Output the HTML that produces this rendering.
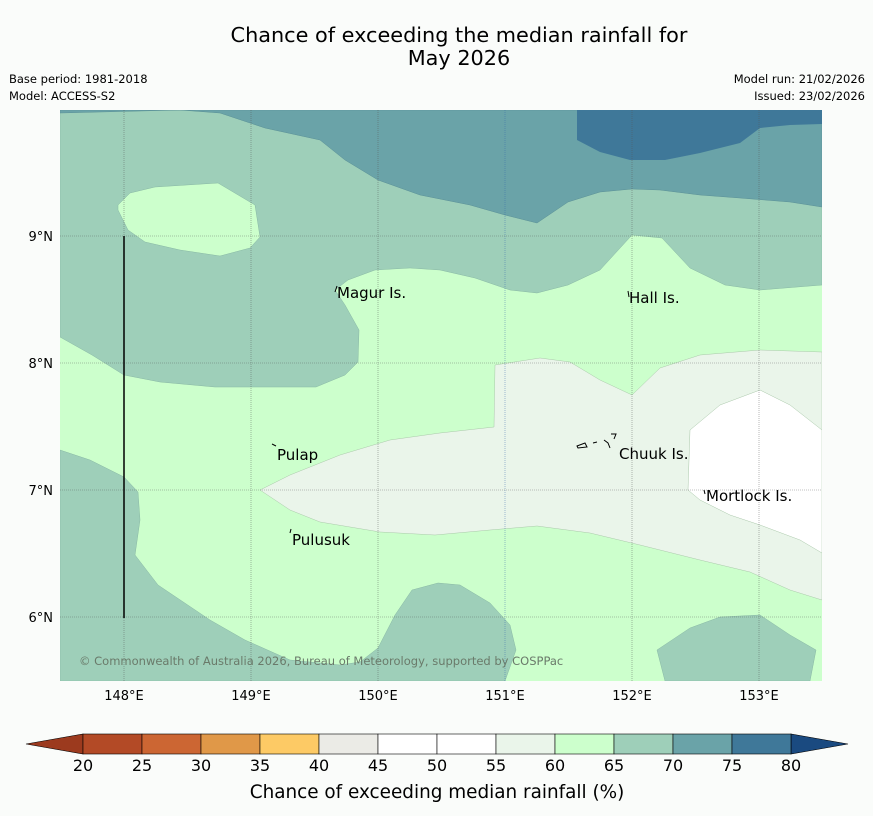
<!DOCTYPE html>
<html><head><meta charset="utf-8"><style>
body{margin:0;background:#fafcfa;font-family:"DejaVu Sans","Liberation Sans",sans-serif;}
svg{display:block}
</style></head><body>
<svg width="873" height="816" viewBox="0 0 873 816">
<rect width="873" height="816" fill="#fafcfa"/>
<text x="459" y="42" font-size="20.8" text-anchor="middle" fill="#000">Chance of exceeding the median rainfall for</text>
<text x="459" y="65" font-size="20.8" text-anchor="middle" fill="#000">May 2026</text>
<text x="9" y="83" font-size="11.5">Base period: 1981-2018</text>
<text x="9" y="100" font-size="11.5">Model: ACCESS-S2</text>
<text x="865" y="83" font-size="11.5" text-anchor="end">Model run: 21/02/2026</text>
<text x="865" y="100" font-size="11.5" text-anchor="end">Issued: 23/02/2026</text>
<defs><clipPath id="mc"><rect x="60" y="110" width="762" height="571"/></clipPath></defs>
<g clip-path="url(#mc)">
<rect x="60" y="110" width="762" height="571" fill="#ccffcc"/>
<polygon fill="#9ecfb9" stroke="#88b8a4" stroke-width="0.5" points="60,337 92,355 124,375 160,382 215,387 316,387 345,375 358,362 359,330 345,305 335,290 348,280 375,270 410,268 440,270 475,278 510,290 537,293 568,285 600,270 632,235 662,238 690,268 725,285 760,290 822,285 822,110 60,110"/>
<polygon fill="#ccffcc" stroke="#88b8a4" stroke-width="0.5" points="118,205 130,193 155,187 218,183 255,205 260,237 250,248 220,256 180,250 145,242 128,230 118,210"/>
<polygon fill="#6aa3a8" stroke="#5a9096" stroke-width="0.5" points="60,113 180,110 220,113 265,128 320,140 345,160 378,180 420,195 470,205 505,215 537,223 568,202 600,192 632,189 660,190 700,195 740,198 790,202 822,207 822,110 60,110"/>
<polygon fill="#3f7899" points="577,110 577,140 600,152 630,160 665,160 700,153 740,143 760,128 790,125 822,124 822,110"/>
<polygon fill="#9ecfb9" stroke="#88b8a4" stroke-width="0.5" points="60,450 90,460 124,477 138,492 140,520 135,555 158,585 210,620 245,640 290,660 340,665 360,662 378,648 395,615 412,590 438,583 460,585 490,603 510,625 516,650 505,681 60,681"/>
<polygon fill="#9ecfb9" stroke="#88b8a4" stroke-width="0.5" points="657,650 690,628 720,617 760,615 790,635 816,650 810,681 665,681"/>
<polygon fill="#eaf5ea" stroke="#aac8aa" stroke-width="0.5" points="495,365 540,358 570,362 600,380 632,395 660,368 700,355 760,350 822,352 822,600 790,590 750,572 700,560 640,545 590,533 537,526 490,530 435,535 380,532 320,522 290,510 260,490 290,475 340,455 390,440 440,433 494,427"/>
<polygon fill="#ffffff" stroke="#aac8aa" stroke-width="0.5" points="690,430 720,405 760,390 790,405 822,430 822,553 800,540 760,525 730,515 700,500 688,490"/>
<g stroke="#555" stroke-width="0.6" stroke-dasharray="1,1" opacity="0.7">
<line x1="124" y1="110" x2="124" y2="681"/><line x1="251" y1="110" x2="251" y2="681"/><line x1="378" y1="110" x2="378" y2="681"/><line x1="505" y1="110" x2="505" y2="681" stroke="#3366aa"/><line x1="632" y1="110" x2="632" y2="681"/><line x1="759" y1="110" x2="759" y2="681"/>
<line x1="60" y1="236" x2="822" y2="236"/><line x1="60" y1="363" x2="822" y2="363"/><line x1="60" y1="490" x2="822" y2="490"/><line x1="60" y1="617" x2="822" y2="617"/>
</g>
<line x1="124" y1="236" x2="124" y2="618" stroke="#000" stroke-width="1.5"/>
<g font-size="15" fill="#000">
<text x="337" y="298">Magur Is.</text>
<text x="629" y="303">Hall Is.</text>
<text x="277" y="460">Pulap</text>
<text x="619" y="459">Chuuk Is.</text>
<text x="706" y="501">Mortlock Is.</text>
<text x="292" y="545">Pulusuk</text>
</g>
<g stroke="#000" fill="none" stroke-width="1">
<path d="M335,292 l2,-6"/><path d="M629,297 l-1,-6"/><path d="M272,444 l4,2"/><path d="M290,533 l1,-4"/><path d="M705,494 l-1,-4"/>
<path d="M577,446 l8,-3 l2,4 l-9,1z M593,443 l4,-1 M604,440 l4,3 l2,5 M611,434 l5,0 l-2,5"/>
</g>
<text x="79" y="665" font-size="11.5" fill="#6a7a6a">© Commonwealth of Australia 2026, Bureau of Meteorology, supported by COSPPac</text>
</g>
<g font-size="13" fill="#000">
<text x="124" y="700" text-anchor="middle">148°E</text><text x="251" y="700" text-anchor="middle">149°E</text><text x="378" y="700" text-anchor="middle">150°E</text><text x="505" y="700" text-anchor="middle">151°E</text><text x="632" y="700" text-anchor="middle">152°E</text><text x="759" y="700" text-anchor="middle">153°E</text>
<text x="53" y="241" text-anchor="end">9°N</text><text x="53" y="368" text-anchor="end">8°N</text><text x="53" y="495" text-anchor="end">7°N</text><text x="53" y="622" text-anchor="end">6°N</text>
</g>
<g id="cbar"></g>
<text x="437" y="798" font-size="18.4" text-anchor="middle">Chance of exceeding median rainfall (%)</text>
</svg>
<script>
const levels=[20,25,30,35,40,45,50,55,60,65,70,75,80];
const colors=['#b34a26','#cc6633','#e09848','#fdca65','#ebebe6','#ffffff','#ffffff','#eaf5ea','#ccffcc','#9ecfb9','#6aa3a8','#3f7899'];
const underColor='#9c3a1e', overColor='#1a4a80';
const NS='http://www.w3.org/2000/svg';
const g=document.getElementById('cbar');
const x0=83,x1=791,y=734,h=20;
const sx=v=>x0+(v-levels[0])/(levels[levels.length-1]-levels[0])*(x1-x0);
function mk(t,a){const e=document.createElementNS(NS,t);for(const k in a)e.setAttribute(k,a[k]);g.appendChild(e);return e;}
const lt=mk('polygon',{points:`${x0},${y} ${x0},${y+h} 26,${y+h/2}`,fill:underColor,stroke:'#000','stroke-width':0.6});


const rt=mk('polygon',{points:`${x1},${y} ${x1},${y+h} 848,${y+h/2}`,fill:overColor,stroke:'#000','stroke-width':0.6});


colors.forEach((c,i)=>{
 const r=mk('rect',{x:sx(levels[i]),y:y,width:sx(levels[i+1])-sx(levels[i]),height:h,fill:c,stroke:'#000','stroke-width':0.6});
 
 
});
levels.forEach(v=>{
 const t=mk('text',{x:sx(v),y:771,'font-size':16,'text-anchor':'middle'});
 t.textContent=v;
 
 
});
</script>
</body></html>
